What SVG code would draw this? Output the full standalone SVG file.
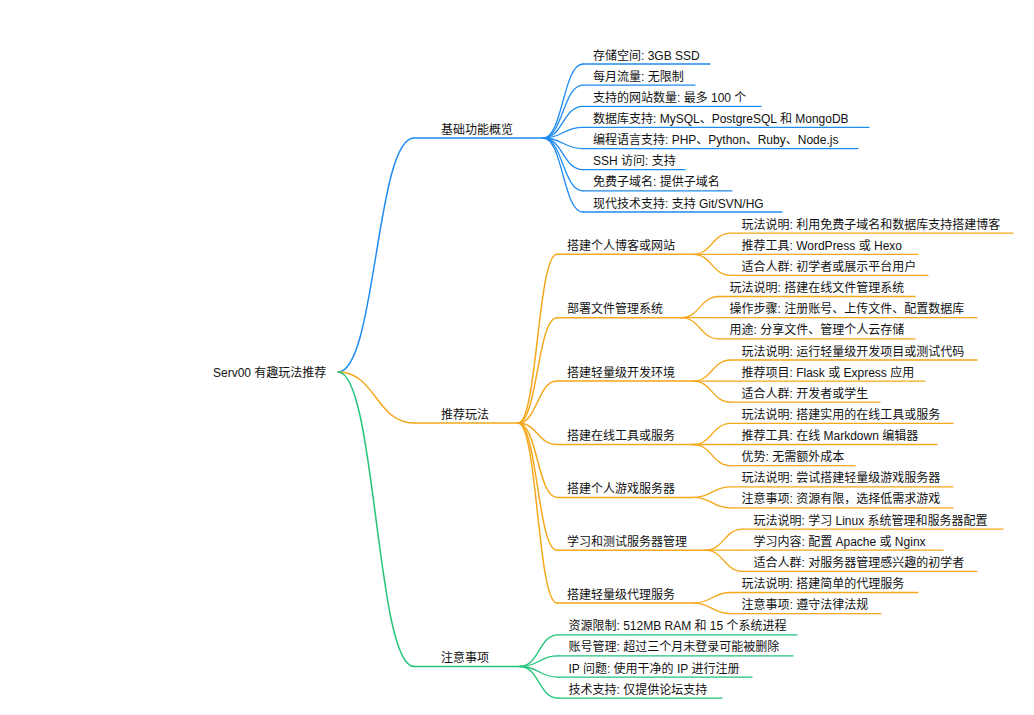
<svg xmlns="http://www.w3.org/2000/svg" width="1034" height="715" viewBox="0 0 1034 715">
<style>
  text { font-family: "Liberation Sans", "Noto Sans CJK SC", sans-serif; font-size: 12px; fill: #111; }
  path, line { fill: none; stroke-width: 1.5; stroke-linecap: round; }
  .b { stroke: #1f8cf2; }
  .o { stroke: #f5a81c; }
  .g { stroke: #22c47a; }
  .leaf { stroke-width: 1.3; }
</style>
<rect width="1034" height="715" fill="#ffffff"/>
<g id="connectors">
  <path class="b" d="M338,372 C376,372 376,138 414,138"/>
  <path class="o" d="M338,372 C376,372 376,423 414,423"/>
  <path class="g" d="M338,372 C376,372 376,666.5 414,666.5"/>
  <!-- blue leaves -->
  <path class="b leaf" d="M543,138 C563,138 563,64 583,64"/>
  <path class="b leaf" d="M543,138 C563,138 563,85.1 583,85.1"/>
  <path class="b leaf" d="M543,138 C563,138 563,106.3 583,106.3"/>
  <path class="b leaf" d="M543,138 C563,138 563,127.4 583,127.4"/>
  <path class="b leaf" d="M543,138 C563,138 563,148.6 583,148.6"/>
  <path class="b leaf" d="M543,138 C563,138 563,169.7 583,169.7"/>
  <path class="b leaf" d="M543,138 C563,138 563,190.8 583,190.8"/>
  <path class="b leaf" d="M543,138 C563,138 563,212 583,212"/>
  <!-- orange level 2 -->
  <path class="o" d="M518,423 C537.5,423 537.5,254.3 557,254.3"/>
  <path class="o" d="M518,423 C537.5,423 537.5,317.7 557,317.7"/>
  <path class="o" d="M518,423 C537.5,423 537.5,381.1 557,381.1"/>
  <path class="o" d="M518,423 C537.5,423 537.5,444.5 557,444.5"/>
  <path class="o" d="M518,423 C537.5,423 537.5,497.4 557,497.4"/>
  <path class="o" d="M518,423 C537.5,423 537.5,550.2 557,550.2"/>
  <path class="o" d="M518,423 C537.5,423 537.5,603.1 557,603.1"/>
  <!-- orange level 3 -->
  <path class="o leaf" d="M693,254.3 C712,254.3 712,233.1 731,233.1"/>
  <path class="o leaf" d="M693,254.3 L731,254.3"/>
  <path class="o leaf" d="M693,254.3 C712,254.3 712,275.4 731,275.4"/>
  <path class="o leaf" d="M681,317.7 C700,317.7 700,296.5 719,296.5"/>
  <path class="o leaf" d="M681,317.7 L719,317.7"/>
  <path class="o leaf" d="M681,317.7 C700,317.7 700,338.8 719,338.8"/>
  <path class="o leaf" d="M693,381.1 C712,381.1 712,360 731,360"/>
  <path class="o leaf" d="M693,381.1 L731,381.1"/>
  <path class="o leaf" d="M693,381.1 C712,381.1 712,402.2 731,402.2"/>
  <path class="o leaf" d="M693,444.5 C712,444.5 712,423.4 731,423.4"/>
  <path class="o leaf" d="M693,444.5 L731,444.5"/>
  <path class="o leaf" d="M693,444.5 C712,444.5 712,465.7 731,465.7"/>
  <path class="o leaf" d="M693,497.4 C712,497.4 712,486.8 731,486.8"/>
  <path class="o leaf" d="M693,497.4 C712,497.4 712,507.9 731,507.9"/>
  <path class="o leaf" d="M705,550.2 C724,550.2 724,529.1 743,529.1"/>
  <path class="o leaf" d="M705,550.2 L743,550.2"/>
  <path class="o leaf" d="M705,550.2 C724,550.2 724,571.4 743,571.4"/>
  <path class="o leaf" d="M693,603.1 C712,603.1 712,592.5 731,592.5"/>
  <path class="o leaf" d="M693,603.1 C712,603.1 712,613.6 731,613.6"/>
  <!-- green leaves -->
  <path class="g leaf" d="M520,666.5 C539,666.5 539,634.8 558,634.8"/>
  <path class="g leaf" d="M520,666.5 C539,666.5 539,655.9 558,655.9"/>
  <path class="g leaf" d="M520,666.5 C539,666.5 539,677.1 558,677.1"/>
  <path class="g leaf" d="M520,666.5 C539,666.5 539,698.2 558,698.2"/>
</g>

<g id="root"><text x="213" y="377">Serv00 有趣玩法推荐</text></g>

<g id="basic"><line class="b" x1="414" y1="138" x2="543" y2="138"/><text x="441" y="133.7">基础功能概览</text></g>
<g id="basic-1"><line class="b leaf" x1="583" y1="64" x2="710" y2="64"/><text x="593" y="59.5">存储空间: 3GB SSD</text></g>
<g id="basic-2"><line class="b leaf" x1="583" y1="85.1" x2="695" y2="85.1"/><text x="593" y="80.6">每月流量: 无限制</text></g>
<g id="basic-3"><line class="b leaf" x1="583" y1="106.3" x2="761" y2="106.3"/><text x="593" y="101.8">支持的网站数量: 最多 100 个</text></g>
<g id="basic-4"><line class="b leaf" x1="583" y1="127.4" x2="869" y2="127.4"/><text x="593" y="122.9">数据库支持: MySQL、PostgreSQL 和 MongoDB</text></g>
<g id="basic-5"><line class="b leaf" x1="583" y1="148.6" x2="858" y2="148.6"/><text x="593" y="144.1">编程语言支持: PHP、Python、Ruby、Node.js</text></g>
<g id="basic-6"><line class="b leaf" x1="583" y1="169.7" x2="685" y2="169.7"/><text x="593" y="165.2">SSH 访问: 支持</text></g>
<g id="basic-7"><line class="b leaf" x1="583" y1="190.8" x2="732" y2="190.8"/><text x="593" y="186.3">免费子域名: 提供子域名</text></g>
<g id="basic-8"><line class="b leaf" x1="583" y1="212" x2="782" y2="212"/><text x="593" y="207.5">现代技术支持: 支持 Git/SVN/HG</text></g>

<g id="play"><line class="o" x1="414" y1="423" x2="518" y2="423"/><text x="441" y="418.5">推荐玩法</text></g>

<g id="play-1"><line class="o" x1="557" y1="254.3" x2="693" y2="254.3"/><text x="567" y="249.8">搭建个人博客或网站</text></g>
<g id="play-1-1"><line class="o leaf" x1="731" y1="233.1" x2="1013" y2="233.1"/><text x="741.5" y="228.6">玩法说明: 利用免费子域名和数据库支持搭建博客</text></g>
<g id="play-1-2"><line class="o leaf" x1="731" y1="254.3" x2="918" y2="254.3"/><text x="741.5" y="249.8">推荐工具: WordPress 或 Hexo</text></g>
<g id="play-1-3"><line class="o leaf" x1="731" y1="275.4" x2="928" y2="275.4"/><text x="741.5" y="270.9">适合人群: 初学者或展示平台用户</text></g>

<g id="play-2"><line class="o" x1="557" y1="317.7" x2="681" y2="317.7"/><text x="567" y="313.2">部署文件管理系统</text></g>
<g id="play-2-1"><line class="o leaf" x1="719" y1="296.5" x2="915" y2="296.5"/><text x="729.5" y="292">玩法说明: 搭建在线文件管理系统</text></g>
<g id="play-2-2"><line class="o leaf" x1="719" y1="317.7" x2="977" y2="317.7"/><text x="729.5" y="313.2">操作步骤: 注册账号、上传文件、配置数据库</text></g>
<g id="play-2-3"><line class="o leaf" x1="719" y1="338.8" x2="915" y2="338.8"/><text x="729.5" y="334.3">用途: 分享文件、管理个人云存储</text></g>

<g id="play-3"><line class="o" x1="557" y1="381.1" x2="693" y2="381.1"/><text x="567" y="376.6">搭建轻量级开发环境</text></g>
<g id="play-3-1"><line class="o leaf" x1="731" y1="360" x2="977" y2="360"/><text x="741.5" y="355.5">玩法说明: 运行轻量级开发项目或测试代码</text></g>
<g id="play-3-2"><line class="o leaf" x1="731" y1="381.1" x2="925" y2="381.1"/><text x="741.5" y="376.6">推荐项目: Flask 或 Express 应用</text></g>
<g id="play-3-3"><line class="o leaf" x1="731" y1="402.2" x2="880" y2="402.2"/><text x="741.5" y="397.7">适合人群: 开发者或学生</text></g>

<g id="play-4"><line class="o" x1="557" y1="444.5" x2="693" y2="444.5"/><text x="567" y="440">搭建在线工具或服务</text></g>
<g id="play-4-1"><line class="o leaf" x1="731" y1="423.4" x2="953" y2="423.4"/><text x="741.5" y="418.9">玩法说明: 搭建实用的在线工具或服务</text></g>
<g id="play-4-2"><line class="o leaf" x1="731" y1="444.5" x2="937" y2="444.5"/><text x="741.5" y="440">推荐工具: 在线 Markdown 编辑器</text></g>
<g id="play-4-3"><line class="o leaf" x1="731" y1="465.7" x2="855" y2="465.7"/><text x="741.5" y="461.2">优势: 无需额外成本</text></g>

<g id="play-5"><line class="o" x1="557" y1="497.4" x2="693" y2="497.4"/><text x="567" y="492.9">搭建个人游戏服务器</text></g>
<g id="play-5-1"><line class="o leaf" x1="731" y1="486.8" x2="953" y2="486.8"/><text x="741.5" y="482.3">玩法说明: 尝试搭建轻量级游戏服务器</text></g>
<g id="play-5-2"><line class="o leaf" x1="731" y1="507.9" x2="953" y2="507.9"/><text x="741.5" y="503.4">注意事项: 资源有限，选择低需求游戏</text></g>

<g id="play-6"><line class="o" x1="557" y1="550.2" x2="705" y2="550.2"/><text x="567" y="545.7">学习和测试服务器管理</text></g>
<g id="play-6-1"><line class="o leaf" x1="743" y1="529.1" x2="1003" y2="529.1"/><text x="753.5" y="524.6">玩法说明: 学习 Linux 系统管理和服务器配置</text></g>
<g id="play-6-2"><line class="o leaf" x1="743" y1="550.2" x2="943" y2="550.2"/><text x="753.5" y="545.7">学习内容: 配置 Apache 或 Nginx</text></g>
<g id="play-6-3"><line class="o leaf" x1="743" y1="571.4" x2="977" y2="571.4"/><text x="753.5" y="566.9">适合人群: 对服务器管理感兴趣的初学者</text></g>

<g id="play-7"><line class="o" x1="557" y1="603.1" x2="693" y2="603.1"/><text x="567" y="598.6">搭建轻量级代理服务</text></g>
<g id="play-7-1"><line class="o leaf" x1="731" y1="592.5" x2="918" y2="592.5"/><text x="741.5" y="588">玩法说明: 搭建简单的代理服务</text></g>
<g id="play-7-2"><line class="o leaf" x1="731" y1="613.6" x2="881" y2="613.6"/><text x="741.5" y="609.1">注意事项: 遵守法律法规</text></g>

<g id="notes"><line class="g" x1="414" y1="666.5" x2="520" y2="666.5"/><text x="441" y="662">注意事项</text></g>
<g id="notes-1"><line class="g leaf" x1="558" y1="634.8" x2="797" y2="634.8"/><text x="568.5" y="630.3">资源限制: 512MB RAM 和 15 个系统进程</text></g>
<g id="notes-2"><line class="g leaf" x1="558" y1="655.9" x2="793" y2="655.9"/><text x="568.5" y="651.4">账号管理: 超过三个月未登录可能被删除</text></g>
<g id="notes-3"><line class="g leaf" x1="558" y1="677.1" x2="752" y2="677.1"/><text x="568.5" y="672.6">IP 问题: 使用干净的 IP 进行注册</text></g>
<g id="notes-4"><line class="g leaf" x1="558" y1="698.2" x2="722" y2="698.2"/><text x="568.5" y="693.7">技术支持: 仅提供论坛支持</text></g>
</svg>
